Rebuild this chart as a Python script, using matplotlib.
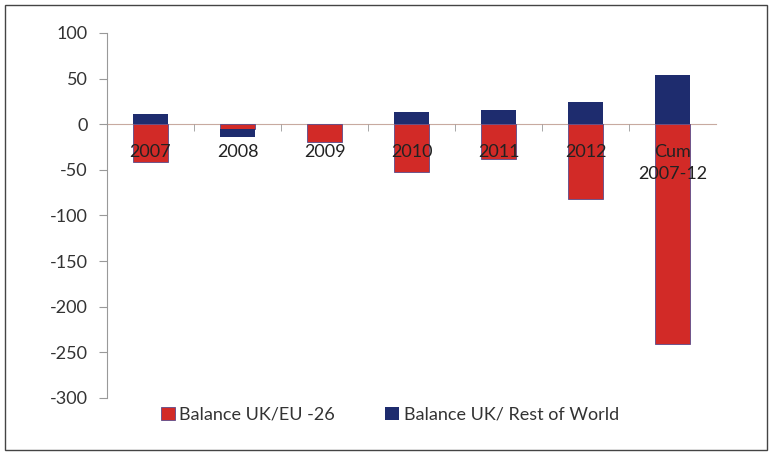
import matplotlib.pyplot as plt
from matplotlib.patches import Rectangle
import numpy as np

plt.rcParams['font.family'] = ['Lato', 'DejaVu Sans']
plt.rcParams['axes.unicode_minus'] = False

categories = ['2007', '2008', '2009', '2010', '2011', '2012', 'Cum\n2007-12']
balance_eu = [-41, -5, -20, -52, -38, -82, -241]
balance_row = [11, -9, 0, 13, 16, 24, 54]

red = '#d22a27'
blue = '#1e2c6e'

fig = plt.figure(figsize=(7.72, 4.55), dpi=100)
ax = fig.add_axes([0.1386, 0.1253, 0.789, 0.8022])

x = np.arange(len(categories))
eu = np.array(balance_eu)
row = np.array(balance_row)
# stacked like Excel: negatives stack below negatives
row_bottom = np.where(row < 0, np.minimum(eu, 0), 0)

ax.bar(x, eu, width=0.4, color=red, edgecolor='#5a4a8a', linewidth=0.6,
       label='Balance UK/EU -26')
ax.bar(x, row, width=0.4, bottom=row_bottom, color=blue, linewidth=0,
       label='Balance UK/ Rest of World')

ax.set_xlim(-0.5, len(categories) - 0.5)
ax.set_ylim(-300, 100)
ax.set_yticks(np.arange(-300, 101, 50))
ax.tick_params(axis='y', labelsize=13, labelcolor='#333333', color='#999999',
               length=6, width=0.8, pad=8)

ax.spines['top'].set_visible(False)
ax.spines['right'].set_visible(False)
ax.spines['left'].set_color('#999999')
ax.spines['bottom'].set_position(('data', 0))
ax.spines['bottom'].set_color('#c8aaa0')
ax.spines['bottom'].set_zorder(0.5)

ax.set_xticks(x)
ax.set_xticklabels(categories, fontsize=13, color='#222222', linespacing=1.45)
ax.set_xticks(np.arange(0.5, len(categories) - 0.5, 1), minor=True)
ax.tick_params(axis='x', which='major', length=0, pad=14)
ax.tick_params(axis='x', which='minor', length=5, color='#999999')

fig.legend(loc='center', bbox_to_anchor=(0.505, 0.088), ncol=2, frameon=False,
           fontsize=13, handlelength=0.75, handleheight=0.75, handletextpad=0.25,
           columnspacing=2.8, labelcolor='#333333')

fig.patches.append(Rectangle((0.006, 0.01), 0.988, 0.98, transform=fig.transFigure,
                             fill=False, edgecolor='#444444', linewidth=1))

fig.savefig('out.png', dpi=100)
